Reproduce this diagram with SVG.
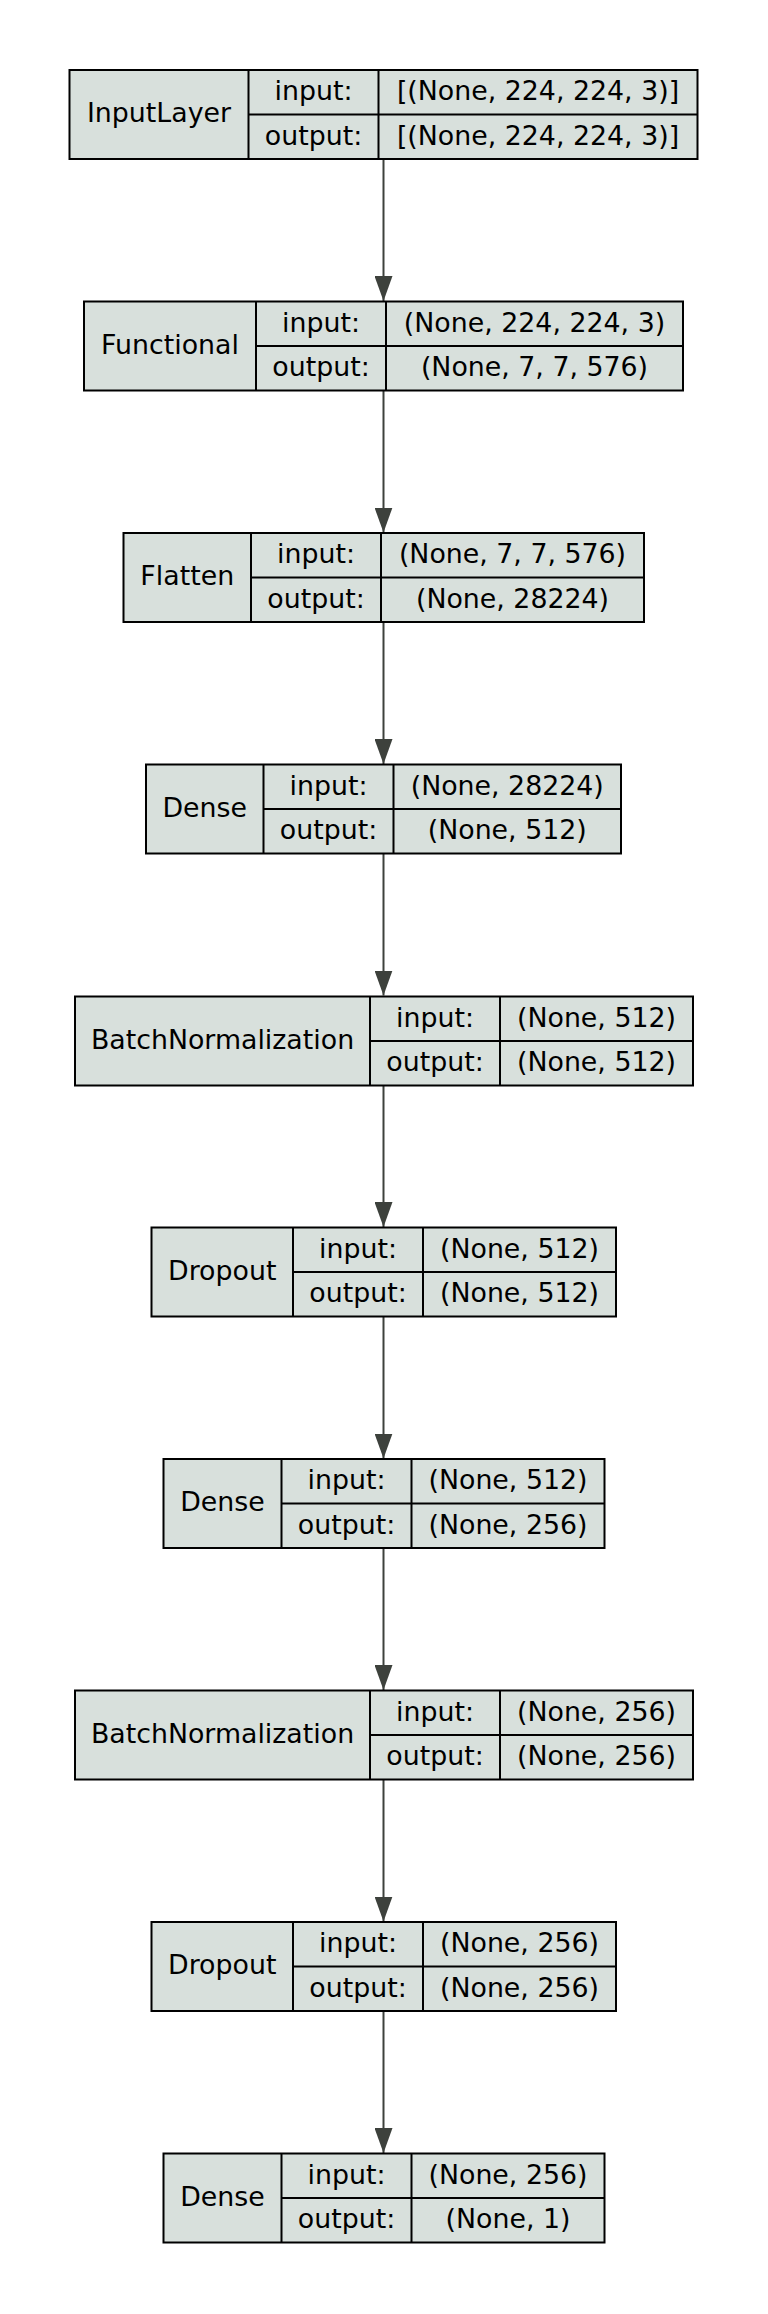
<svg xmlns="http://www.w3.org/2000/svg" width="768" height="2314" viewBox="0 0 768 2314">
<defs>
<style>
.box{fill:#d8e0dc;stroke:#000;stroke-width:2}
.ln{stroke:#000;stroke-width:2}
text{font-family:"DejaVu Sans",sans-serif;font-size:26.8px;fill:#000;text-anchor:middle}
.edge{stroke:#3d413c;stroke-width:2;fill:none}
</style>
<marker id="ah" viewBox="0 0 25 18" refX="25" refY="9" markerWidth="25" markerHeight="18" markerUnits="userSpaceOnUse" orient="auto">
<path d="M0,0 L25,9 L0,18 Z" fill="#3d413c"/>
</marker>
</defs>
<rect width="768" height="2314" fill="#fff"/>
<g id="connectors">
<line class="edge" x1="383.5" y1="159" x2="383.5" y2="301" marker-end="url(#ah)"/>
<line class="edge" x1="383.5" y1="390.5" x2="383.5" y2="532.5" marker-end="url(#ah)"/>
<line class="edge" x1="383.5" y1="622" x2="383.5" y2="764" marker-end="url(#ah)"/>
<line class="edge" x1="383.5" y1="853.5" x2="383.5" y2="995.5" marker-end="url(#ah)"/>
<line class="edge" x1="383.5" y1="1085" x2="383.5" y2="1227" marker-end="url(#ah)"/>
<line class="edge" x1="383.5" y1="1316.5" x2="383.5" y2="1458.5" marker-end="url(#ah)"/>
<line class="edge" x1="383.5" y1="1548" x2="383.5" y2="1690" marker-end="url(#ah)"/>
<line class="edge" x1="383.5" y1="1779.5" x2="383.5" y2="1921.5" marker-end="url(#ah)"/>
<line class="edge" x1="383.5" y1="2011" x2="383.5" y2="2153" marker-end="url(#ah)"/>
</g>
<g id="n1" transform="translate(0,70)">
<rect class="box" x="69.5" y="0" width="628" height="89"/>
<line class="ln" x1="248.5" y1="0" x2="248.5" y2="89"/><line class="ln" x1="378.5" y1="0" x2="378.5" y2="89"/><line class="ln" x1="248.5" y1="44.5" x2="697.5" y2="44.5"/>
<text x="159" y="52.3">InputLayer</text>
<text x="313.5" y="30.3">input:</text><text x="313.5" y="74.8">output:</text>
<text x="538" y="30.3">[(None, 224, 224, 3)]</text><text x="538" y="74.8">[(None, 224, 224, 3)]</text>
</g>
<g id="n2" transform="translate(0,301.5)">
<rect class="box" x="84" y="0" width="599" height="89"/>
<line class="ln" x1="256" y1="0" x2="256" y2="89"/><line class="ln" x1="386" y1="0" x2="386" y2="89"/><line class="ln" x1="256" y1="44.5" x2="683" y2="44.5"/>
<text x="170" y="52.3">Functional</text>
<text x="321" y="30.3">input:</text><text x="321" y="74.8">output:</text>
<text x="534.5" y="30.3">(None, 224, 224, 3)</text><text x="534.5" y="74.8">(None, 7, 7, 576)</text>
</g>
<g id="n3" transform="translate(0,533)">
<rect class="box" x="123.5" y="0" width="520.5" height="89"/>
<line class="ln" x1="251" y1="0" x2="251" y2="89"/><line class="ln" x1="381" y1="0" x2="381" y2="89"/><line class="ln" x1="251" y1="44.5" x2="644" y2="44.5"/>
<text x="187.25" y="52.3">Flatten</text>
<text x="316" y="30.3">input:</text><text x="316" y="74.8">output:</text>
<text x="512.5" y="30.3">(None, 7, 7, 576)</text><text x="512.5" y="74.8">(None, 28224)</text>
</g>
<g id="n4" transform="translate(0,764.5)">
<rect class="box" x="146" y="0" width="475" height="89"/>
<line class="ln" x1="263.5" y1="0" x2="263.5" y2="89"/><line class="ln" x1="393.5" y1="0" x2="393.5" y2="89"/><line class="ln" x1="263.5" y1="44.5" x2="621" y2="44.5"/>
<text x="204.75" y="52.3">Dense</text>
<text x="328.5" y="30.3">input:</text><text x="328.5" y="74.8">output:</text>
<text x="507.25" y="30.3">(None, 28224)</text><text x="507.25" y="74.8">(None, 512)</text>
</g>
<g id="n5" transform="translate(0,996.5)">
<rect class="box" x="75" y="0" width="618" height="89"/>
<line class="ln" x1="370" y1="0" x2="370" y2="89"/><line class="ln" x1="500" y1="0" x2="500" y2="89"/><line class="ln" x1="370" y1="44.5" x2="693" y2="44.5"/>
<text x="222.5" y="52.3">BatchNormalization</text>
<text x="435" y="30.3">input:</text><text x="435" y="74.8">output:</text>
<text x="596.5" y="30.3">(None, 512)</text><text x="596.5" y="74.8">(None, 512)</text>
</g>
<g id="n6" transform="translate(0,1227.5)">
<rect class="box" x="151.5" y="0" width="464.5" height="89"/>
<line class="ln" x1="293" y1="0" x2="293" y2="89"/><line class="ln" x1="423" y1="0" x2="423" y2="89"/><line class="ln" x1="293" y1="44.5" x2="616" y2="44.5"/>
<text x="222.25" y="52.3">Dropout</text>
<text x="358" y="30.3">input:</text><text x="358" y="74.8">output:</text>
<text x="519.5" y="30.3">(None, 512)</text><text x="519.5" y="74.8">(None, 512)</text>
</g>
<g id="n7" transform="translate(0,1459)">
<rect class="box" x="163.5" y="0" width="441" height="89"/>
<line class="ln" x1="281.5" y1="0" x2="281.5" y2="89"/><line class="ln" x1="411.5" y1="0" x2="411.5" y2="89"/><line class="ln" x1="281.5" y1="44.5" x2="604.5" y2="44.5"/>
<text x="222.5" y="52.3">Dense</text>
<text x="346.5" y="30.3">input:</text><text x="346.5" y="74.8">output:</text>
<text x="508" y="30.3">(None, 512)</text><text x="508" y="74.8">(None, 256)</text>
</g>
<g id="n8" transform="translate(0,1690.5)">
<rect class="box" x="75" y="0" width="618" height="89"/>
<line class="ln" x1="370" y1="0" x2="370" y2="89"/><line class="ln" x1="500" y1="0" x2="500" y2="89"/><line class="ln" x1="370" y1="44.5" x2="693" y2="44.5"/>
<text x="222.5" y="52.3">BatchNormalization</text>
<text x="435" y="30.3">input:</text><text x="435" y="74.8">output:</text>
<text x="596.5" y="30.3">(None, 256)</text><text x="596.5" y="74.8">(None, 256)</text>
</g>
<g id="n9" transform="translate(0,1922)">
<rect class="box" x="151.5" y="0" width="464.5" height="89"/>
<line class="ln" x1="293" y1="0" x2="293" y2="89"/><line class="ln" x1="423" y1="0" x2="423" y2="89"/><line class="ln" x1="293" y1="44.5" x2="616" y2="44.5"/>
<text x="222.25" y="52.3">Dropout</text>
<text x="358" y="30.3">input:</text><text x="358" y="74.8">output:</text>
<text x="519.5" y="30.3">(None, 256)</text><text x="519.5" y="74.8">(None, 256)</text>
</g>
<g id="n10" transform="translate(0,2153.5)">
<rect class="box" x="163.5" y="0" width="441" height="89"/>
<line class="ln" x1="281.5" y1="0" x2="281.5" y2="89"/><line class="ln" x1="411.5" y1="0" x2="411.5" y2="89"/><line class="ln" x1="281.5" y1="44.5" x2="604.5" y2="44.5"/>
<text x="222.5" y="52.3">Dense</text>
<text x="346.5" y="30.3">input:</text><text x="346.5" y="74.8">output:</text>
<text x="508" y="30.3">(None, 256)</text><text x="508" y="74.8">(None, 1)</text>
</g>
</svg>
